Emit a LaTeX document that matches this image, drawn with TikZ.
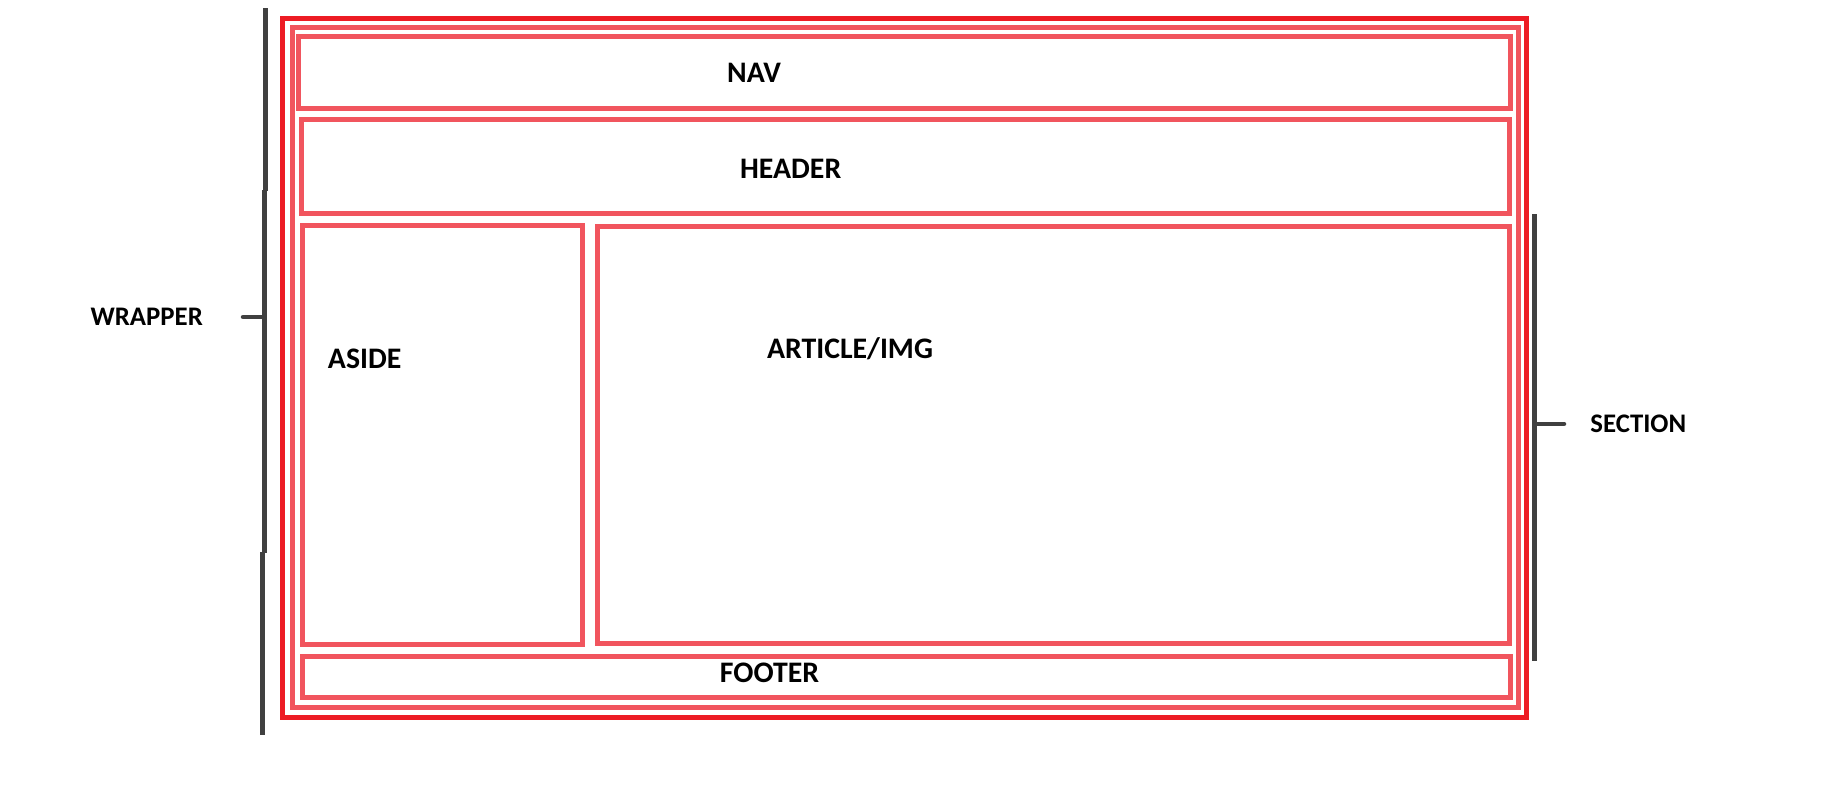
\documentclass[tikz,border=0pt]{standalone}
\usepackage{fontspec}
\setmainfont{Carlito}
\usepackage{tikz}
\definecolor{wrapred}{HTML}{ED1C24}
\definecolor{boxred}{HTML}{F1555E}
\definecolor{bargray}{HTML}{404040}

\begin{document}
\begin{tikzpicture}[
    x=1pt,y=-1pt,
    panel/.style={draw=boxred,line width=5pt,inner sep=0pt,outer sep=0pt},
    outerpanel/.style={panel,draw=wrapred},
    lbl/.style={anchor=base,inner sep=0pt,font=\fontsize{29.8}{32}\selectfont\bfseries},
    sidelbl/.style={lbl,font=\fontsize{26.8}{29}\selectfont\bfseries},
    bar/.style={draw=bargray,line width=5pt},
    tick/.style={draw=bargray,line width=4.5pt,line cap=round}
]
\useasboundingbox (0,0) rectangle (1834,795);
% nested boxes of the page layout
\node[outerpanel,minimum width=1244pt,minimum height=699pt] (wrapper) at (904.5,368) {};
\node[panel,minimum width=1226pt,minimum height=680pt] (section) at (905.5,367.5) {};
\node[panel,minimum width=1212pt,minimum height=72pt] (nav) at (904.4,72.5) {};
\node[panel,minimum width=1208pt,minimum height=94pt] (header) at (905.4,166.5) {};
\node[panel,minimum width=280pt,minimum height=419pt] (aside) at (442.5,435.1) {};
\node[panel,minimum width=912pt,minimum height=417pt] (article) at (1053.6,435) {};
\node[panel,minimum width=1208pt,minimum height=41pt] (footer) at (906.5,677) {};
\node[lbl] (navtxt) at (754,82.7) {NAV};
\node[lbl] (headertxt) at (790.7,178.3) {HEADER};
\node[lbl] (asidetxt) at (364.7,368.3) {ASIDE};
\node[lbl] (articletxt) at (850,358.3) {ARTICLE/IMG};
\node[lbl] (footertxt) at (769.5,682.7) {FOOTER};
\node[sidelbl] (wraptxt) at (146.7,325) {WRAPPER};
\node[sidelbl] (sectiontxt) at (1638.3,432.3) {SECTION};
% brackets
\coordinate (wa) at (265.5,8);
\coordinate (wb) at (265.5,191);
\coordinate (wc) at (264.5,190);
\coordinate (wd) at (264.5,553);
\coordinate (we) at (262.5,552);
\coordinate (wf) at (262.5,735);
\coordinate (wt) at (243,317);
\coordinate (wm) at (264.5,317);
\draw[bar] (wa)--(wb);
\draw[bar] (wc)--(wd);
\draw[bar] (we)--(wf);
\draw[tick] (wt)--(wm);
\coordinate (sa) at (1534.5,214);
\coordinate (sb) at (1534.5,661);
\coordinate (sm) at (1536,424);
\coordinate (st) at (1564,424);
\draw[bar] (sa)--(sb);
\draw[tick] (sm)--(st);
\end{tikzpicture}
\end{document}
